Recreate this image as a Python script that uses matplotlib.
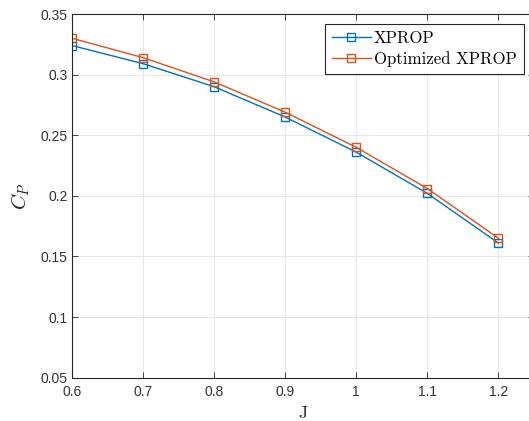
import numpy as np
import matplotlib
matplotlib.use("Agg")
import matplotlib.pyplot as plt

plt.rcParams["mathtext.fontset"] = "cm"
plt.rcParams["axes.formatter.use_mathtext"] = True

J = [0.6, 0.7, 0.8, 0.9, 1.0, 1.1, 1.2]
cp_xprop = [0.324, 0.309, 0.290, 0.265, 0.236, 0.202, 0.161]
cp_opt = [0.330, 0.314, 0.294, 0.269, 0.240, 0.206, 0.165]

x_ticks = [0.6, 0.7, 0.8, 0.9, 1.0, 1.1, 1.2]
x_tick_labels = ["0.6", "0.7", "0.8", "0.9", "1", "1.1", "1.2"]
y_ticks = [0.05, 0.1, 0.15, 0.2, 0.25, 0.3, 0.35]
y_tick_labels = ["0.05", "0.1", "0.15", "0.2", "0.25", "0.3", "0.35"]

blue = "#0072BD"
orange = "#D95319"
axcol = "#262626"

fig = plt.figure(figsize=(5.29, 4.21), dpi=100)
ax = fig.add_axes([72 / 529, 1 - 377.7 / 421, 462 / 529, 363.7 / 421])

ax.plot(J, cp_xprop, color=blue, lw=1.0, marker="s", ms=6,
        mfc="none", mec=blue, mew=1.0, label="XPROP")
ax.plot(J, cp_opt, color=orange, lw=1.0, marker="s", ms=6,
        mfc="none", mec=orange, mew=1.0, label="Optimized XPROP")

ax.set_xlim(0.6, 1.25)
ax.set_ylim(0.05, 0.35)
ax.set_xticks(x_ticks)
ax.set_xticklabels(x_tick_labels, family="Liberation Sans", fontsize=10, color="#333333")
ax.set_yticks(y_ticks)
ax.set_yticklabels(y_tick_labels, family="Liberation Sans", fontsize=10, color="#333333")

ax.tick_params(direction="in", length=4, width=0.6, color=axcol,
               top=True, right=True)
ax.tick_params(axis="x", pad=5)
ax.tick_params(axis="y", pad=3)
ax.grid(True, color="#e3e3e3", lw=0.6)
ax.set_axisbelow(True)
for s in ax.spines.values():
    s.set_color(axcol)
    s.set_linewidth(0.8)

ax.set_xlabel("J", family="cmr10", fontsize=13, color=axcol, labelpad=5)
ax.set_ylabel("$C_P$", fontsize=15, color=axcol, labelpad=6)

leg = ax.legend(loc="upper right", bbox_to_anchor=(523.7 / 529, 1 - 24.3 / 421),
                bbox_transform=fig.transFigure, frameon=True, fancybox=False,
                edgecolor=axcol, framealpha=1, handlelength=2.3,
                borderaxespad=0, borderpad=0.4, labelspacing=0.3,
                handletextpad=0.2, prop={"family": "cmr10", "size": 12.1})
leg.get_frame().set_linewidth(0.8)

fig.savefig("out.png", dpi=100)
